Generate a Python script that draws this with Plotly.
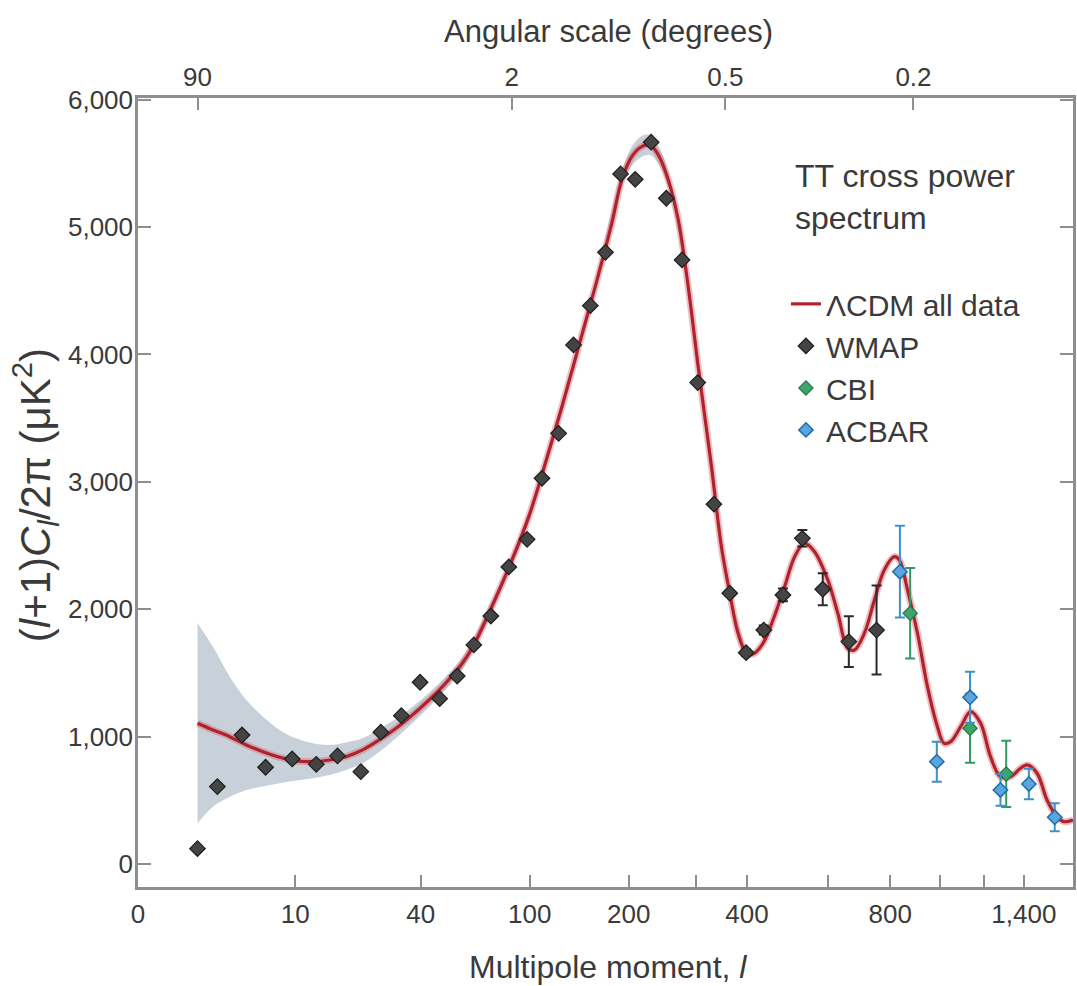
import numpy as np
import plotly.graph_objects as go

# ---- custom multipole axis scale (tick l -> axis position) ----
KNOT_L = np.array([0, 2, 10, 40, 100, 200, 300, 400, 600, 800, 1000, 1200, 1400, 1600, 1700])
KNOT_POS = np.array([138, 197.7, 295.7, 421.7, 531, 630.3, 697.7, 749, 830, 892.7, 943, 987, 1026.7, 1062, 1078])


def xs(l):
    return np.interp(np.log10(np.asarray(l, dtype=float) + 2), np.log10(KNOT_L + 2), KNOT_POS)


bottom_tick_l = [0, 10, 40, 100, 200, 300, 400, 600, 800, 1000, 1200, 1400]
bottom_tick_text = ["0", "10", "40", "100", "200", "", "400", "", "800", "", "", "1,400"]
top_tick_l = [2, 86, 354, 887]
top_tick_text = ["90", "2", "0.5", "0.2"]
y_tick_vals = [0, 1000, 2000, 3000, 4000, 5000, 6000]
y_tick_text = ["0", "1,000", "2,000", "3,000", "4,000", "5,000", "6,000"]

# ---- LCDM best fit ----
model_l = [2, 2.76, 3.75, 4.93, 6.35, 8.07, 10.1, 12.3, 14.9, 17.9, 21.5, 25.7, 30.8, 36.6, 42.9, 49.4,
           56.9, 62.7, 71.1, 86.3, 99.2, 111.6, 125.4, 140.9, 158.3, 177.8, 190.5, 203.7, 216.3, 227.5,
           239.2, 254, 269.8, 286.4, 303.9, 327.5, 346.3, 363, 380.3, 398, 412.2, 433.4, 455.7, 483.1,
           508, 533.9, 561.4, 600, 628.4, 657.8, 678.4, 710.2, 743.6, 778.2, 814.5, 832.8, 864, 902.9,
           944, 986.8, 1015, 1043.6, 1087.8, 1134, 1181.8, 1229.5, 1278, 1329, 1381.6, 1417.4, 1472,
           1528.7, 1587.6, 1628.7, 1687]
model_v = [1105, 1053, 1000, 935, 882, 838, 809, 804, 817, 843, 896, 974, 1066, 1170, 1288, 1419,
           1576, 1720, 1969, 2387, 2727, 3146, 3590, 4061, 4532, 5030, 5370, 5553, 5631, 5644,
           5566, 5370, 5055, 4532, 3904, 3119, 2491, 2126, 1812, 1659, 1649, 1733, 1916, 2177,
           2413, 2518, 2452, 2230, 1969, 1694, 1681, 1812, 2073, 2308, 2413, 2387, 2151, 1812,
           1393, 1078, 948, 961, 1078, 1196, 1105, 843, 686, 686, 752, 778, 713,
           503, 372, 333, 346]

# ---- cosmic variance band ----
band_l = [2, 2.76, 3.75, 4.93, 6.35, 8.07, 10.1, 12.3, 14.9, 17.9, 21.5, 25.7, 30.8, 36.6, 42.9, 49.4,
          56.9, 71.1, 86.3, 99.2, 125.4, 158.3, 190.5, 203.7, 216.3, 227.5, 239.2, 254, 286.4, 327.5,
          363, 398]
band_hi = [1890, 1706, 1471, 1288, 1157, 1053, 987, 948, 935, 955, 987, 1060, 1140, 1235, 1345, 1470,
           1625, 2015, 2430, 2770, 3635, 4580, 5430, 5630, 5715, 5725, 5640, 5430, 4575, 3150,
           2150, 1680]
band_lo = [320, 450, 529, 582, 608, 634, 655, 673, 699, 739, 791, 880, 990, 1105, 1230, 1370,
           1528, 1925, 2345, 2685, 3545, 4485, 5310, 5480, 5550, 5565, 5495, 5310, 4490, 3090,
           2100, 1640]

# ---- WMAP ----
wmap_l = [2, 3, 4.6, 6.6, 9.6, 12.8, 16.3, 21.1, 26.2, 32.6, 39.7, 47, 54.5, 62.7, 72.3, 84, 97.8,
          109, 122.5, 136, 153, 170, 189, 208, 229, 251, 276, 303, 332, 363, 398, 435, 479, 528,
          585, 661, 751]
wmap_v = [121, 608, 1013, 760, 825, 783, 849, 725, 1035, 1165, 1427, 1298, 1476, 1720, 1947, 2332,
          2549, 3028, 3381, 4075, 4383, 4802, 5417, 5375, 5666, 5226, 4742, 3779, 2825, 2126, 1659,
          1837, 2112, 2557, 2157, 1746, 1837]
wmap_err = [0, 0, 0, 0, 0, 0, 0, 0, 0, 0, 0, 0, 0, 0, 0, 0, 0, 0, 0, 0, 0, 0, 0, 0, 0, 0, 0,
            0, 0, 20, 25, 35, 50, 65, 125, 200, 350]

# ---- CBI ----
cbi_l = [874, 1131, 1307]
cbi_v = [1969, 1066, 707]
cbi_err = [355, 270, 260]

# ---- ACBAR ----
acbar_l = [835, 984, 1131, 1278, 1427, 1574]
acbar_v = [2295, 804, 1309, 582, 629, 367]
acbar_err = [360, 157, 200, 125, 120, 110]

REG = "Liberation Sans, Arial, Helvetica, sans-serif"
TXT = "#3a3a3a"
AX = "#8e8e8e"

fig = go.Figure()

# band
fig.add_trace(go.Scatter(x=xs(band_l), y=band_hi, mode="lines", line=dict(width=0, shape="spline"),
                         showlegend=False, hoverinfo="skip"))
fig.add_trace(go.Scatter(x=xs(band_l), y=band_lo, mode="lines", line=dict(width=0, shape="spline"),
                         fill="tonexty", fillcolor="rgba(190,200,210,0.85)", showlegend=False,
                         hoverinfo="skip"))

# model glow + line
fig.add_trace(go.Scatter(x=xs(model_l), y=model_v, mode="lines",
                         line=dict(color="rgba(215,110,120,0.45)", width=7, shape="spline", smoothing=1),
                         showlegend=False, hoverinfo="skip"))
fig.add_trace(go.Scatter(x=xs(model_l), y=model_v, mode="lines", name="ΛCDM all data",
                         line=dict(color="#b0232d", width=3.2, shape="spline", smoothing=1)))

# data
fig.add_trace(go.Scatter(x=xs(wmap_l), y=wmap_v, mode="markers", name="WMAP",
                         marker=dict(symbol="diamond", size=12, color="#444444",
                                     line=dict(color="#1e1e1e", width=1.2)),
                         error_y=dict(type="data", array=wmap_err, visible=True, color="#2a2a2a",
                                      thickness=2, width=5)))
fig.add_trace(go.Scatter(x=xs(cbi_l), y=cbi_v, mode="markers", name="CBI",
                         marker=dict(symbol="diamond", size=11, color="#3fa56a",
                                     line=dict(color="#1f7a48", width=1.2)),
                         error_y=dict(type="data", array=cbi_err, visible=True, color="#2f9a62",
                                      thickness=2, width=5)))
fig.add_trace(go.Scatter(x=xs(acbar_l), y=acbar_v, mode="markers", name="ACBAR",
                         marker=dict(symbol="diamond", size=11, color="#5aa6dc",
                                     line=dict(color="#1f6cb0", width=1.5)),
                         error_y=dict(type="data", array=acbar_err, visible=True, color="#3b92c8",
                                      thickness=2, width=5)))

# dummy trace to activate top axis
fig.add_trace(go.Scatter(x=xs([2]), y=[None], xaxis="x2", showlegend=False, hoverinfo="skip"))

fig.update_layout(
    width=1077, height=986,
    margin=dict(l=138, r=1, t=98, b=99),
    paper_bgcolor="white", plot_bgcolor="white",
    font=dict(family=REG, color=TXT),
    xaxis=dict(range=[138, 1076], tickmode="array", tickvals=xs(bottom_tick_l), ticktext=bottom_tick_text,
               ticks="inside", ticklen=12, tickwidth=1.5, tickcolor=AX, showline=True, linecolor=AX,
               linewidth=2.5, showgrid=False, zeroline=False, ticklabelstandoff=2,
               tickfont=dict(family=REG, size=26, color=TXT)),
    xaxis2=dict(range=[138, 1076], overlaying="x", side="top", tickmode="array", tickvals=xs(top_tick_l),
                ticktext=top_tick_text, ticks="inside", ticklen=12, tickwidth=1.5, tickcolor=AX,
                showline=True, linecolor=AX, linewidth=2.5, showgrid=False, zeroline=False,
                ticklabelstandoff=-1, tickfont=dict(family=REG, size=26, color=TXT)),
    yaxis=dict(range=[-180, 6013], tickmode="array", tickvals=y_tick_vals, ticktext=y_tick_text,
               ticks="inside", ticklen=13, tickwidth=1.5, tickcolor=AX, showline=True, linecolor=AX,
               linewidth=2.5, mirror="ticks", showgrid=False, zeroline=False, ticklabelstandoff=-3,
               tickfont=dict(family=REG, size=26, color=TXT)),
    legend=dict(x=0.693, y=0.772, xanchor="left", yanchor="top", bgcolor="rgba(0,0,0,0)",
                font=dict(family=REG, size=30, color=TXT), tracegroupgap=0, traceorder="normal"),
    showlegend=True,
)

fig.add_annotation(text="TT cross power<br>spectrum", xref="paper", yref="paper", x=0.7004, y=0.875,
                   xanchor="left", yanchor="middle", align="left", showarrow=False,
                   font=dict(family=REG, size=32, color=TXT))
fig.add_annotation(text="Multipole moment, <i>l</i>", xref="paper", yref="paper", x=0.5032, y=-0.1014,
                   xanchor="center", yanchor="middle", showarrow=False,
                   font=dict(family=REG, size=32, color=TXT))
fig.add_annotation(text="Angular scale (degrees)", xref="paper", yref="paper", x=0.5032, y=1.0837,
                   xanchor="center", yanchor="middle", showarrow=False,
                   font=dict(family=REG, size=31, color=TXT))
fig.add_annotation(text="(<i>l</i>+1)<i>C</i><sub><i>l</i></sub>/2π (μK<sup>2</sup>)", xref="paper",
                   yref="paper", x=-0.1098, y=0.497, xanchor="center", yanchor="middle", textangle=-90,
                   showarrow=False, font=dict(family=REG, size=42, color=TXT))

fig.write_html("out.html")
